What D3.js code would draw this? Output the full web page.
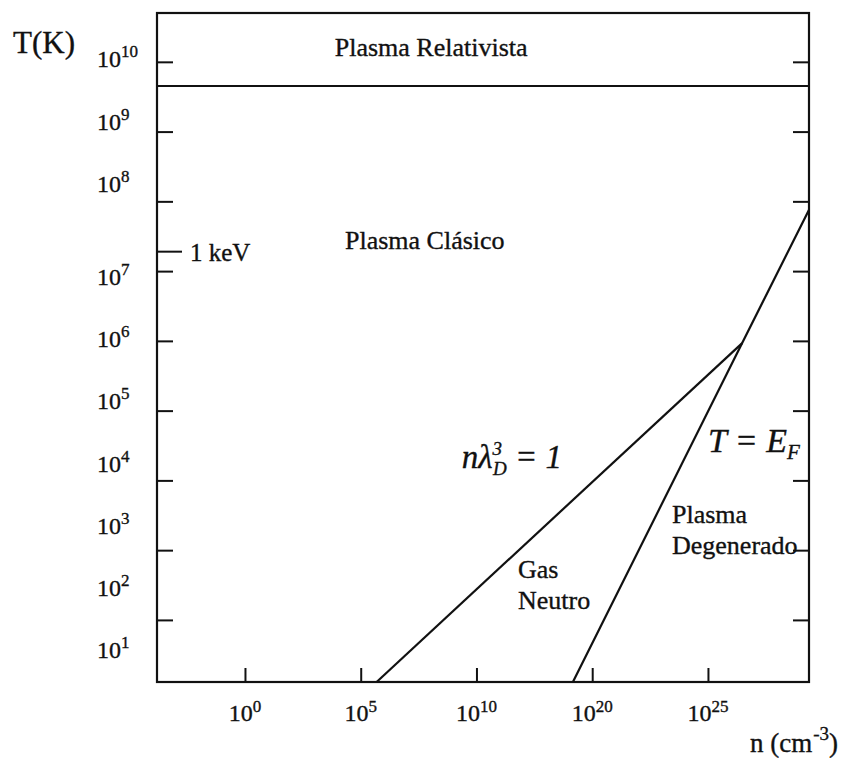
<!DOCTYPE html>
<html>
<head>
<meta charset="utf-8">
<script src="https://cdn.jsdelivr.net/npm/d3@7"></script>
<style>
  body { margin: 0; background: #fff; }
  svg text { font-family: "Liberation Serif", "Times New Roman", serif; fill: #111; stroke: #111; stroke-width: 0.35px; }
</style>
</head>
<body>
<svg id="chart" width="842" height="760"></svg>
<script>
// Density–temperature map of plasma regimes (n in cm^-3, T in K)

// Axis extents
const densityExtent = [Math.pow(10, -3.8), Math.pow(10, 29.36)];
const temperatureExtent = [Math.pow(10, 1.11), Math.pow(10, 10.70)];

// Density axis ticks as printed (evenly spaced along the axis)
const densityTicks = [1e0, 1e5, 1e10, 1e20, 1e25];
const densityTickExponents = ["0", "5", "10", "20", "25"];

// Temperature axis ticks and the printed decade labels
const temperatureTicks = [1e2, 1e3, 1e4, 1e5, 1e6, 1e7, 1e8, 1e9, 1e10];
const temperatureLabelExponents = [10, 9, 8, 7, 6, 5, 4, 3, 2, 1];

// Boundary n·λD³ = 1  (T ∝ n^(1/3))
const debyeBoundary = [
  { n: 5.0e5, T: 13 },
  { n: 3.0e26, T: 9.3e5 }
];

// Boundary T = E_F  (T ∝ n^(2/3))
const fermiBoundary = [
  { n: 2.2e18, T: 13 },
  { n: 3.0e26, T: 9.3e5 },
  { n: 2.3e29, T: 7.6e7 }
];

// Relativistic threshold and the 1 keV marker
const relativisticT = 4.5e9;
const keVT = 1.9e7;

// Region annotations (anchored in data space)
const regions = [
  { lines: ["Plasma Relativista"], n: 1.1e8, T: 1.2e10, anchor: "middle" },
  { lines: ["Plasma Clásico"], n: 2.1e4, T: 2.1e7, anchor: "start" },
  { lines: ["Gas", "Neutro"], n: 3.9e13, T: 400, anchor: "start" },
  { lines: ["Plasma", "Degenerado"], n: 2.8e23, T: 2.45e3, anchor: "start" }
];
const debyeLabelAt = { n: 2.3e9, T: 1.5e4 };
const fermiLabelAt = { n: 1.0e25, T: 2.55e4 };

// ---- layout ----
const frame = { left: 157, top: 13, right: 809, bottom: 682 };
const svg = d3.select("#chart");
const ink = "#111";

// Density ticks are equally spaced; the outer ends extend the last segments.
const tickStep = (frame.right - frame.left) / (0.76 + 4 + 0.873);
const tickPx = densityTicks.map((_, i) => frame.left + (0.76 + i) * tickStep);
const x = d3.scaleLog()
  .domain([densityExtent[0], ...densityTicks, densityExtent[1]])
  .range([frame.left, ...tickPx, frame.right]);

const y = d3.scaleLog()
  .domain(temperatureExtent)
  .range([frame.bottom, frame.top]);

// Decade labels on the T axis sit on their own (uneven) vertical rhythm
const yLabel = d3.scaleLog()
  .domain([1e10, 1e8, 1e7, 1e1])
  .range([59, 184, 277, 650]);

// ---- ticks ----
const tickStyle = g => {
  g.select(".domain").remove();
  g.selectAll(".tick line").attr("stroke", ink).attr("stroke-width", 2);
  g.selectAll(".tick text").remove();
};

svg.append("g")
  .attr("transform", `translate(${frame.left},0)`)
  .call(d3.axisLeft(y).tickValues(temperatureTicks).tickSizeInner(-16).tickSizeOuter(0))
  .call(tickStyle);

svg.append("g")
  .attr("transform", `translate(${frame.right},0)`)
  .call(d3.axisRight(y).tickValues(temperatureTicks).tickSizeInner(-16).tickSizeOuter(0))
  .call(tickStyle);

svg.append("g")
  .attr("transform", `translate(0,${frame.bottom})`)
  .call(d3.axisBottom(x).tickValues(densityTicks).tickSizeInner(-14).tickSizeOuter(0))
  .call(tickStyle);

// 1 keV marker
svg.append("line")
  .attr("x1", frame.left).attr("x2", frame.left + 25)
  .attr("y1", y(keVT)).attr("y2", y(keVT))
  .attr("stroke", ink).attr("stroke-width", 2);
svg.append("text")
  .attr("x", frame.left + 33).attr("y", y(keVT) + 9)
  .attr("font-size", 25)
  .text("1 keV");

// ---- frame ----
svg.append("rect")
  .attr("x", frame.left).attr("y", frame.top)
  .attr("width", frame.right - frame.left).attr("height", frame.bottom - frame.top)
  .attr("fill", "none").attr("stroke", ink).attr("stroke-width", 2.2);

// relativistic threshold
svg.append("line")
  .attr("x1", frame.left).attr("x2", frame.right)
  .attr("y1", y(relativisticT)).attr("y2", y(relativisticT))
  .attr("stroke", ink).attr("stroke-width", 2.2);

// ---- boundaries ----
const line = d3.line().x(d => x(d.n)).y(d => y(d.T));
[debyeBoundary, fermiBoundary].forEach(pts => {
  svg.append("path")
    .attr("d", line(pts))
    .attr("fill", "none")
    .attr("stroke", ink)
    .attr("stroke-width", 2.2)
    .attr("stroke-linejoin", "round");
});

// ---- tick labels ----
const power = (sel, exp, baseSize, supSize, rise) => {
  sel.append("tspan").attr("font-size", baseSize).text("10");
  sel.append("tspan").attr("font-size", supSize).attr("dy", -rise).text(exp);
};

temperatureLabelExponents.forEach(e => {
  const t = svg.append("text")
    .attr("x", 97)
    .attr("y", yLabel(Math.pow(10, e)) + 8);
  power(t, String(e), 24, 17, 10);
});

densityTicks.forEach((v, i) => {
  const t = svg.append("text")
    .attr("x", x(v))
    .attr("y", frame.bottom + 39)
    .attr("text-anchor", "middle");
  power(t, densityTickExponents[i], 24, 17, 9);
});

// axis titles
svg.append("text")
  .attr("x", 13).attr("y", 53)
  .attr("font-size", 31)
  .text("T(K)");

const nTitle = svg.append("text")
  .attr("x", 838).attr("y", 752)
  .attr("text-anchor", "end")
  .attr("font-size", 27);
nTitle.append("tspan").text("n (cm");
nTitle.append("tspan").attr("font-size", 19).attr("dx", 1).attr("dy", -12).text("-3");
nTitle.append("tspan").attr("dy", 12).text(")");

// ---- region annotations ----
regions.forEach(r => {
  const t = svg.append("text")
    .attr("x", x(r.n)).attr("y", y(r.T))
    .attr("font-size", 26)
    .attr("text-anchor", r.anchor);
  r.lines.forEach((s, i) => {
    t.append("tspan")
      .attr("x", x(r.n))
      .attr("dy", i === 0 ? 0 : 31)
      .text(s);
  });
});

// n λ_D^3 = 1
const dl = svg.append("text")
  .attr("x", x(debyeLabelAt.n)).attr("y", y(debyeLabelAt.T))
  .attr("font-size", 33).attr("font-style", "italic");
dl.append("tspan").text("nλ");
dl.append("tspan").attr("font-size", 19).attr("dy", -13).text("3");
dl.append("tspan").attr("font-size", 19).attr("dx", -9).attr("dy", 20).text("D");
dl.append("tspan").attr("dy", -7).text(" = 1");

// T = E_F
const fl = svg.append("text")
  .attr("x", x(fermiLabelAt.n)).attr("y", y(fermiLabelAt.T))
  .attr("font-size", 34).attr("font-style", "italic");
fl.append("tspan").text("T = E");
fl.append("tspan").attr("font-size", 21).attr("dy", 7).text("F");
</script>
</body>
</html>
